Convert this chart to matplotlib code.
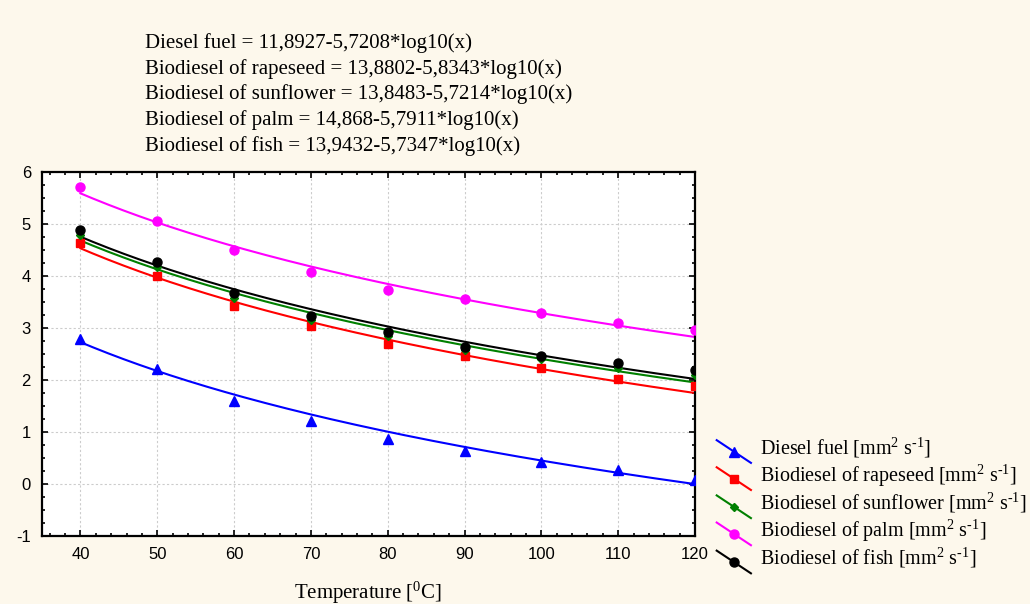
import numpy as np
import matplotlib
matplotlib.use("Agg")
import matplotlib.pyplot as plt
from matplotlib.lines import Line2D
from matplotlib.legend_handler import HandlerLine2D
from matplotlib.ticker import MultipleLocator

plt.rcParams['mathtext.fontset'] = 'custom'
plt.rcParams['mathtext.rm'] = 'Liberation Serif'
plt.rcParams['mathtext.it'] = 'Liberation Serif:italic'
plt.rcParams['axes.unicode_minus'] = False

# temperatures, deg C
temps = [40, 50, 60, 70, 80, 90, 100, 110, 120]

# measured viscosity, mm2/s
diesel = [2.78, 2.22, 1.60, 1.22, 0.87, 0.63, 0.42, 0.27, 0.08]
rapeseed = [4.64, 4.00, 3.42, 3.04, 2.69, 2.47, 2.23, 2.02, 1.88]
sunflower = [4.78, 4.17, 3.58, 3.16, 2.84, 2.57, 2.40, 2.24, 2.10]
palm = [5.72, 5.06, 4.50, 4.08, 3.73, 3.56, 3.28, 3.10, 2.96]
fish = [4.88, 4.26, 3.67, 3.24, 2.93, 2.64, 2.47, 2.33, 2.19]

# fit coefficients: y = a - b*log10(x)
fit_a = [11.8927, 13.8802, 13.8483, 14.868, 13.9432]
fit_b = [5.7208, 5.8343, 5.7214, 5.7911, 5.7347]
fit_txt_a = ['11,8927', '13,8802', '13,8483', '14,868', '13,9432']
fit_txt_b = ['5,7208', '5,8343', '5,7214', '5,7911', '5,7347']

names = ['Diesel fuel', 'Biodiesel of rapeseed', 'Biodiesel of sunflower',
         'Biodiesel of palm', 'Biodiesel of fish']
series = [diesel, rapeseed, sunflower, palm, fish]
colors = ['#0000ff', '#ff0000', '#008000', '#ff00ff', '#000000']
markers = ['^', 's', 'D', 'o', 'o']
msizes = [6.5, 6, 4, 6.5, 6.5]


class DiagHandler(HandlerLine2D):
    # legend line drawn diagonally, marker in the middle
    def create_artists(self, legend, orig_handle, xdescent, ydescent,
                       width, height, fontsize, trans):
        x0, x1 = -xdescent, -xdescent + width
        y1, y0 = -ydescent + height * 0.85, -ydescent - height * 0.25
        ln = Line2D([x0, x1], [y1, y0], color=orig_handle.get_color(), lw=1.5)
        mk = Line2D([(x0 + x1) / 2], [(y0 + y1) / 2], marker=orig_handle.get_marker(),
                    color=orig_handle.get_color(), ms=orig_handle.get_markersize(), ls='none')
        ln.set_transform(trans)
        mk.set_transform(trans)
        return [ln, mk]


bg = '#fdf8ec'
fig = plt.figure(figsize=(10.3, 6.04), dpi=100, facecolor=bg)
ax = fig.add_axes([0.0408, 0.1126, 0.634, 0.6026])
ax.set_facecolor('white')

xs = np.linspace(40, 120, 200)
handles = []
for i in range(5):
    ax.plot(temps, series[i], ls='none', marker=markers[i], color=colors[i],
            ms=msizes[i], zorder=3)
    ax.plot(xs, fit_a[i] - fit_b[i] * np.log10(xs), color=colors[i], lw=1.5, zorder=2)
    handles.append(Line2D([], [], color=colors[i], marker=markers[i], ms=msizes[i]))

ax.set_xlim(35, 120)
ax.set_ylim(-1, 6)
ax.xaxis.set_major_locator(MultipleLocator(10))
ax.xaxis.set_minor_locator(MultipleLocator(2))
ax.yaxis.set_major_locator(MultipleLocator(1))
ax.yaxis.set_minor_locator(MultipleLocator(0.25))
ax.set_xticks(temps)
ax.grid(True, ls=(0, (2, 2)), color='#cccccc', lw=0.8)
ax.tick_params(which='both', direction='in', top=True, right=True,
               labelsize=12, pad=8)
ax.tick_params(which='major', length=4, width=1.2)
ax.tick_params(which='minor', length=2.5, width=1.2)
for lab in ax.get_xticklabels() + ax.get_yticklabels():
    lab.set_family('Liberation Sans')
for s in ax.spines.values():
    s.set_linewidth(1.6)

ax.set_xlabel('Temperature [$^0$C]', family='Liberation Serif', fontsize=15,
              labelpad=12.5)

for i in range(5):
    fig.text(145 / 1030, 1 - (43 + 25.7 * i) / 604,
             f'{names[i]} = {fit_txt_a[i]}-{fit_txt_b[i]}*log10(x)',
             family='Liberation Serif', fontsize=15, va='center', ha='left')

labels = [n + r' [mm$^2$ s$^{\text{-}1}$]' for n in names]
leg = fig.legend(handles, labels, loc='upper left', bbox_to_anchor=(0.688, 0.292),
                 frameon=False, handler_map={Line2D: DiagHandler()},
                 prop={'family': 'Liberation Serif', 'size': 14.5},
                 handlelength=1.7, handleheight=1.2, handletextpad=0.45,
                 labelspacing=0.12, borderaxespad=0)

fig.savefig('out.png', dpi=100, facecolor=bg)
